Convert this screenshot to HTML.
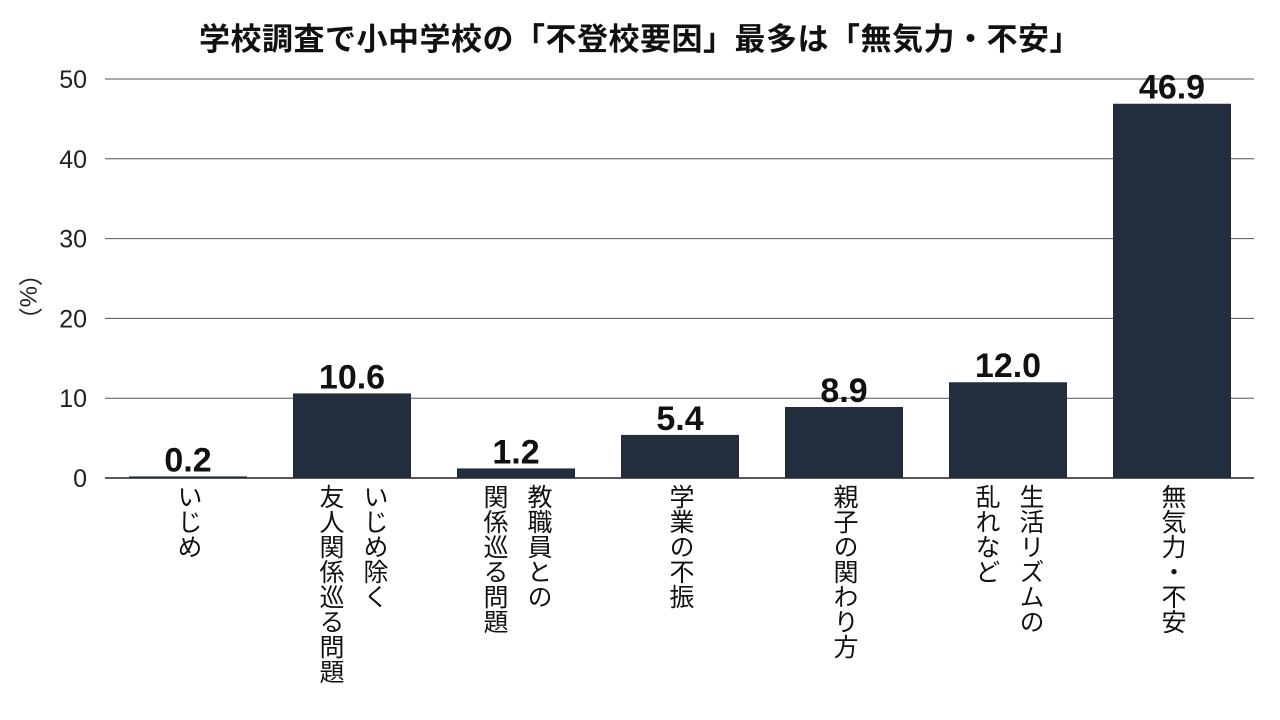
<!DOCTYPE html>
<html><head><meta charset="utf-8"><style>
body{margin:0;width:1280px;height:720px;background:#fff;overflow:hidden;font-family:"Liberation Sans","Noto Sans CJK JP",sans-serif;}
.title{position:absolute;left:0;width:1280px;top:14px;text-align:center;font-size:31px;font-weight:bold;color:#111;letter-spacing:0.5px;}
.ylab{position:absolute;left:10px;top:262px;writing-mode:vertical-rl;font-size:24px;color:#222;}
.xl{position:absolute;top:484px;writing-mode:vertical-rl;font-size:25px;color:#111;line-height:44px;white-space:nowrap;}
</style></head><body>
<div class="title">学校調査で小中学校の「不登校要因」最多は「無気力・不安」</div>
<div class="ylab">（%）</div>
<svg id="chart" width="1280" height="720" style="position:absolute;left:0;top:0"></svg>
<div id="xlabels"></div>
<script>
const categories=["いじめ","いじめ除く<br>友人関係巡る問題","教職員との<br>関係巡る問題","学業の不振","親子の関わり方","生活リズムの<br>乱れなど","無気力・不安"];
const values=[0.2,10.6,1.2,5.4,8.9,12.0,46.9];
const valueLabels=["0.2","10.6","1.2","5.4","8.9","12.0","46.9"];
const yTicks=[0,10,20,30,40,50];
const ns="http://www.w3.org/2000/svg";
const svg=document.getElementById('chart');
const x0=106,band=164,bw=118,yBase=478,yTop=79,yMax=50;
const y=v=>yBase-(v/yMax)*(yBase-yTop);
const xc=i=>x0+band*i+band/2;
function mk(t,a){const e=document.createElementNS(ns,t);for(const k in a)e.setAttribute(k,a[k]);svg.appendChild(e);return e;}
yTicks.forEach(t=>{
 const l=mk('line',{x1:105,x2:1254,y1:y(t),y2:y(t),stroke:t===0?'#222':'#555','stroke-width':t===0?1.5:1});
 
 
 const tx=mk('text',{x:87,y:y(t)+9,'text-anchor':'end','font-size':25,fill:'#222','font-family':'Liberation Sans, sans-serif'});
 tx.textContent=t;
 
 
});
values.forEach((v,i)=>{
 const r=mk('rect',{x:xc(i)-bw/2,y:y(v),width:bw,height:yBase-y(v),fill:'#222d3d'});
 
 
 const t=mk('text',{x:xc(i),y:y(v)-5,'text-anchor':'middle','font-size':34,'font-weight':'bold',fill:'#111','font-family':'Liberation Sans, sans-serif'});
 t.textContent=valueLabels[i];
 
 
});
const xl=document.getElementById('xlabels');
categories.forEach((c,i)=>{
 const d=document.createElement('div');
 d.className='xl';
 d.innerHTML=c;
 
 
 xl.appendChild(d);
 d.style.left=(xc(i)-d.offsetWidth/2)+'px';
});
</script>
</body></html>
